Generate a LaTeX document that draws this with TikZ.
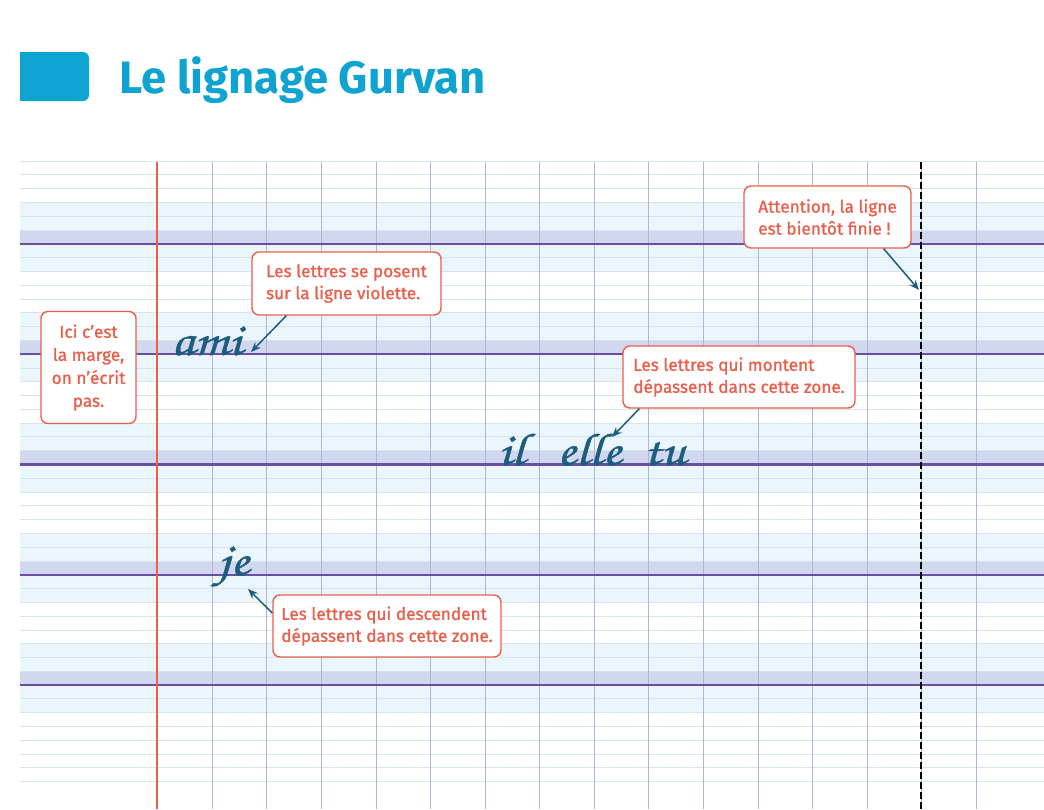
\documentclass[tikz,border=0pt]{standalone}
\usepackage{fontspec}
\setmainfont{Fira Sans}
\newfontfamily\bullefont[FakeBold=1.2]{Fira Sans}
\IfFontExistsTF{TeX Gyre Chorus}{\newfontfamily\ecrit[FakeStretch=1.2,FakeBold=0.8]{TeX Gyre Chorus}}{\newcommand\ecrit{\itshape}}
\usepackage{xcolor}
\usetikzlibrary{arrows.meta}

\definecolor{titlebleu}{HTML}{0FA3D2}
\definecolor{corail}{HTML}{E8604C}
\definecolor{encre}{HTML}{1C5C7E}
\definecolor{ligne}{HTML}{D6E4EC}
\definecolor{bandebleu}{HTML}{EAF5FC}
\definecolor{bandeviolet}{HTML}{D2D7F0}
\definecolor{violet}{HTML}{6A4FA0}
\definecolor{colonne}{HTML}{B5B2D4}

\begin{document}
\begin{tikzpicture}[x=1pt,y=-1pt,
        bulle/.style={draw=corail, line width=1.4pt, fill=white, rounded corners=7pt,
            text=corail, font=\bullefont\fontsize{17.2}{22}\selectfont, inner sep=0pt},
        fleche/.style={draw=encre, line width=1.5pt, -{Stealth[length=10pt,width=8pt]}},
        cursif/.style={text=encre, inner sep=0pt, anchor=base west, font=\ecrit\fontsize{46}{46}\selectfont}]
        \useasboundingbox (0,0) rectangle (1044,809);
        % titre
        \fill[titlebleu, rounded corners=6pt] (20,52) rectangle (89,101);
        \fill[titlebleu] (20,52) rectangle (50,101);
        \node[anchor=base west, text=titlebleu, inner sep=0pt, font=\bfseries\fontsize{45.4}{46}\selectfont] (titre) at (119,93) {Le lignage Gurvan};
        % bandes et lignes
        \foreach \k in {0,...,4} {
            \fill[bandebleu] (20,{243.8+110.32*\k-41.37}) rectangle (1044,{243.8+110.32*\k+27.58});
            \fill[bandeviolet] (20,{243.8+110.32*\k-13.79}) rectangle (1044,{243.8+110.32*\k});
        }
        \foreach \i in {0,...,45} {
            \draw[ligne, line width=0.8pt] (20,{243.8+(\i-6)*13.79}) -- (1044,{243.8+(\i-6)*13.79});
        }
        \foreach \j in {0,...,14} {
            \draw[colonne, line width=0.9pt] ({212.3+54.57*\j},162) -- ({212.3+54.57*\j},809);
        }
        \foreach \k in {0,...,4} {
            \draw[violet, line width=2.4pt] (20,{243.8+110.32*\k}) -- (1044,{243.8+110.32*\k});
        }
        \draw[corail, line width=2pt] (157,162) -- (157,809);
        \draw[black, line width=2pt, dash pattern=on 6.5pt off 3.5pt] (921,162) -- (921,809);
        % mots
        \node[cursif] (ami) at (171,355) {ami};
        \node[cursif] (il) at (498,465) {il};
        \node[cursif] (elle) at (557,465) {elle};
        \node[cursif] (tu) at (643,465) {tu};
        \node[cursif] (je) at (218,575) {je};
        % bulles
        \node[bulle, minimum width=95pt, minimum height=112pt, align=center,
            font=\bullefont\fontsize{17.2}{23}\selectfont] (marge) at (88.5,367.5) {Ici c’est\\la marge,\\on n’écrit\\pas.};
        \node[bulle, minimum width=189pt, minimum height=63pt, align=left] (posent) at (346.5,283.5) {Les lettres se posent\\sur la ligne violette.};
        \node[bulle, minimum width=167pt, minimum height=62pt, align=left] (attention) at (827.5,217) {Attention, la ligne\\est bientôt finie !};
        \node[bulle, minimum width=232pt, minimum height=62pt, align=left] (montent) at (739,377) {Les lettres qui montent\\dépassent dans cette zone.};
        \node[bulle, minimum width=228pt, minimum height=62pt, align=left] (descendent) at (387,626) {Les lettres qui descendent\\dépassent dans cette zone.};
        % fleches
        \coordinate (finami) at (251,352);
        \coordinate (bord) at (919,290);
        \coordinate (haut) at (612,437);
        \coordinate (bas) at (248,589);
        \draw[fleche] ([xshift=35pt]posent.south west) -- (finami);
        \draw[fleche] ([xshift=-28pt]attention.south east) -- (bord);
        \draw[fleche] ([xshift=17pt]montent.south west) -- (haut);
        \draw[fleche] ([yshift=13pt]descendent.west) -- (bas);
    \end{tikzpicture}
\end{document}
